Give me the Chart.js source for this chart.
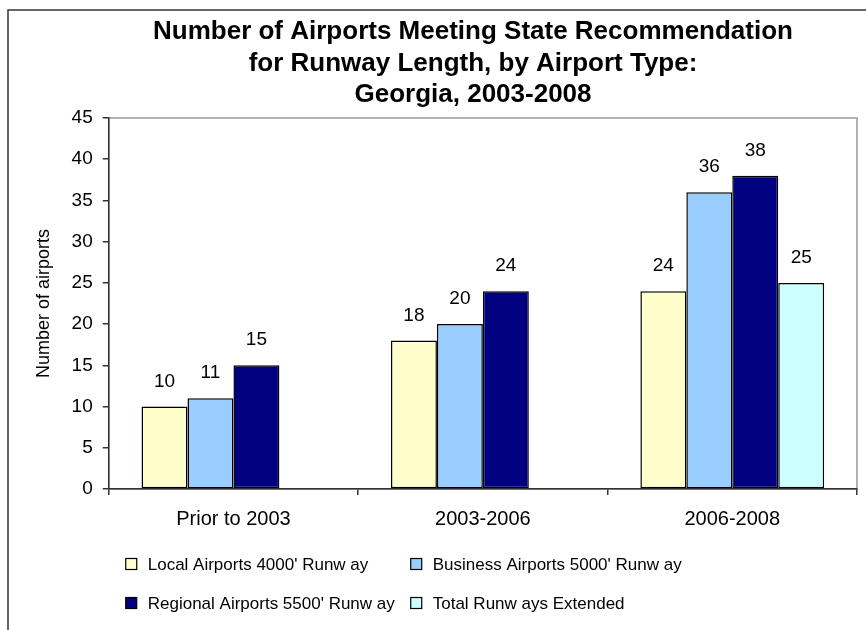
<!DOCTYPE html>
<html>
<head>
<meta charset="utf-8">
<title>Georgia airports runway length</title>
<script src="https://cdn.jsdelivr.net/npm/chart.js@4.4.1/dist/chart.umd.min.js"></script>
<style>
  html, body { margin: 0; padding: 0; background: #fff; overflow: hidden; }
  #wrap { width: 866px; height: 630px; }
</style>
</head>
<body>
<div id="wrap"><canvas id="runwayChart" width="866" height="630"></canvas></div>
<script>
// periods on the x axis
const periods = ['Prior to 2003', '2003-2006', '2006-2008'];

// airports meeting the recommendation, per period
const localAirports = [10, 18, 24];
const businessAirports = [11, 20, 36];
const regionalAirports = [15, 24, 38];
const runwaysExtended = [null, null, 25];

const seriesNames = [
  "Local Airports 4000' Runw ay",
  "Business Airports 5000' Runw ay",
  "Regional Airports 5500' Runw ay",
  'Total Runw ays Extended'
];
const seriesColors = ['#FFFFCC', '#99CCFF', '#000080', '#CCFFFF'];

const titleLines = [
  'Number of Airports Meeting State Recommendation',
  'for Runway Length, by Airport Type:',
  'Georgia, 2003-2008'
];
const yAxisTitle = 'Number of airports';
const yMin = 0, yMax = 45, yStep = 5;

const FONT = "'Liberation Sans', Arial, sans-serif";
const AXIS_COLOR = '#333333';

// white page, outer frame and the grey box round the plot
const framePlugin = {
  id: 'frame',
  beforeDraw(chart) {
    const { ctx, chartArea: a } = chart;
    ctx.save();
    ctx.fillStyle = '#fff';
    ctx.fillRect(0, 0, chart.width, chart.height);
    ctx.strokeStyle = '#333';
    ctx.lineWidth = 1.5;
    ctx.beginPath();
    ctx.moveTo(8, chart.height);
    ctx.lineTo(8, 10);
    ctx.lineTo(chart.width, 10);
    ctx.stroke();
    ctx.strokeStyle = '#999';
    ctx.lineWidth = 1.5;
    ctx.strokeRect(a.left, a.top, a.right - a.left, a.bottom - a.top);
    ctx.restore();
  },
  afterDraw(chart) {
    const { ctx, chartArea: a } = chart;
    ctx.save();
    // title, three centred lines
    ctx.fillStyle = '#000';
    ctx.font = `bold 26px ${FONT}`;
    ctx.textAlign = 'center';
    ctx.textBaseline = 'alphabetic';
    titleLines.forEach((line, i) => ctx.fillText(line, 473, 39 + i * 31.5));

    // legend, two columns by two rows
    ctx.font = `17px ${FONT}`;
    ctx.textAlign = 'left';
    ctx.textBaseline = 'middle';
    const cols = [a.left + 17, a.left + 302];
    const rows = [a.bottom + 75, a.bottom + 114];
    chart.data.datasets.forEach((ds, i) => {
      const x = cols[i % 2];
      const y = rows[Math.floor(i / 2)];
      ctx.fillStyle = ds.backgroundColor;
      ctx.fillRect(x, y - 5.5, 11, 11);
      ctx.strokeStyle = '#000';
      ctx.lineWidth = 1.2;
      ctx.strokeRect(x, y - 5.5, 11, 11);
      ctx.fillStyle = '#000';
      ctx.fillText(ds.label, x + 22, y + 1);
    });
    ctx.restore();
  }
};

// value printed above each bar
const valueLabels = {
  id: 'valueLabels',
  afterDatasetsDraw(chart) {
    const { ctx } = chart;
    ctx.save();
    ctx.fillStyle = '#000';
    ctx.font = `19px ${FONT}`;
    ctx.textAlign = 'center';
    ctx.textBaseline = 'alphabetic';
    chart.data.datasets.forEach((ds, i) => {
      chart.getDatasetMeta(i).data.forEach((bar, j) => {
        const v = ds.data[j];
        if (v === null || v === undefined) return;
        ctx.fillText(String(v), bar.x, bar.y - 20);
      });
    });
    ctx.restore();
  }
};

const seriesData = [localAirports, businessAirports, regionalAirports, runwaysExtended];

new Chart(document.getElementById('runwayChart'), {
  type: 'bar',
  data: {
    labels: periods,
    datasets: seriesData.map((values, i) => ({
      label: seriesNames[i],
      data: values,
      backgroundColor: seriesColors[i],
      borderColor: '#000',
      borderWidth: 1.5,
      borderSkipped: false,
      categoryPercentage: 0.737,
      barPercentage: 1.0
    }))
  },
  options: {
    responsive: false,
    animation: false,
    layout: { padding: { top: 118, left: 8, right: 9, bottom: 87 } },
    plugins: {
      legend: { display: false },
      title: { display: false },
      tooltip: { enabled: false }
    },
    scales: {
      x: {
        grid: {
          display: true,
          drawOnChartArea: false,
          drawTicks: true,
          tickLength: 6,
          tickColor: AXIS_COLOR,
          lineWidth: 1.5
        },
        border: { display: true, color: AXIS_COLOR, width: 1.5 },
        ticks: {
          color: '#000',
          padding: 12,
          font: { family: FONT, size: 20 },
          maxRotation: 0
        }
      },
      y: {
        min: yMin,
        max: yMax,
        grid: {
          display: true,
          drawOnChartArea: false,
          drawTicks: true,
          tickLength: 6,
          tickColor: AXIS_COLOR,
          lineWidth: 1.5
        },
        border: { display: true, color: AXIS_COLOR, width: 1.5 },
        ticks: {
          stepSize: yStep,
          color: '#000',
          padding: 10,
          font: { family: FONT, size: 19 }
        },
        title: {
          display: true,
          text: yAxisTitle,
          color: '#000',
          font: { family: FONT, size: 18 },
          padding: { top: 25, bottom: 7 }
        }
      }
    }
  },
  plugins: [framePlugin, valueLabels]
});
</script>
</body>
</html>
